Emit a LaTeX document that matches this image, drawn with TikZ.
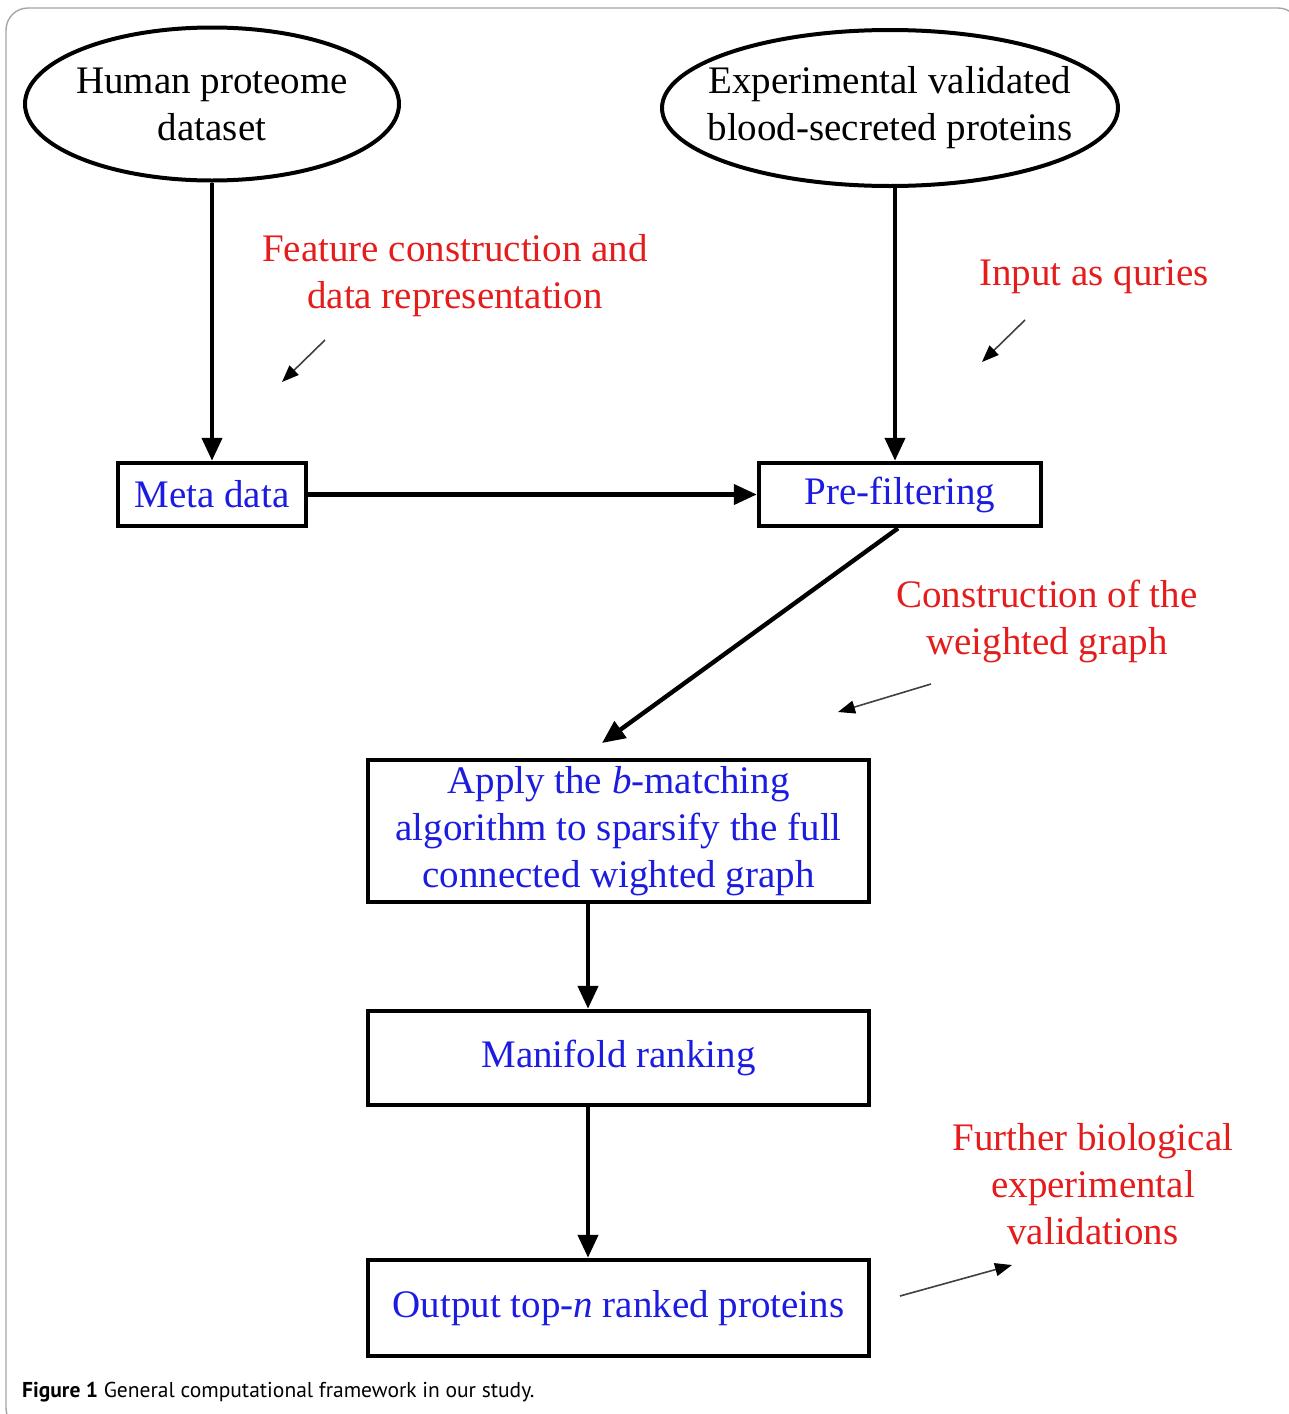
\documentclass[tikz,border=0pt]{standalone}
\usepackage{fontspec}
\setmainfont{Liberation Serif}
\newfontfamily\capfont{PT Sans}
\usetikzlibrary{shapes.geometric,arrows.meta}
\definecolor{lblred}{RGB}{228,28,28}
\definecolor{boxblue}{RGB}{28,28,225}
\definecolor{frame}{RGB}{165,165,165}
\tikzset{
  big/.style={font=\fontsize{39}{47}\selectfont},
  ell/.style={ellipse,draw,line width=4pt,inner sep=0pt},
  etext/.style={align=center,big,inner sep=0pt},
  stepbox/.style={rectangle,draw,line width=4.5pt,inner sep=0pt,align=center,big,text=boxblue},
  lbl/.style={align=center,big,text=lblred,inner sep=0pt},
  arr/.style={line width=4.4pt,-{Triangle[length=23pt,width=20pt]}},
  thin/.style={line width=1.6pt,draw=black!75,-{Triangle[length=17pt,width=13pt,color=black]}}
}
\begin{document}
\begin{tikzpicture}[x=1pt,y=-1pt]
\useasboundingbox (0,0) rectangle (1289,1414);
\draw[frame,line width=1.4pt,rounded corners=22pt] (6,8) rectangle (1300,1430);

\node[ell,minimum width=374pt,minimum height=153pt] (h1) at (212,104) {};
\node[etext] (h1t) at (h1.center) {Human proteome\\dataset};
\node[ell,minimum width=456pt,minimum height=156pt] (h2) at (890,108) {};
\node[etext] (h2t) at (h2.center) {Experimental validated\\blood-secreted proteins};

\node[stepbox,minimum width=188pt,minimum height=63pt] (meta) at (212,494.5) {Meta data};
\node[stepbox,minimum width=282pt,minimum height=63pt] (pre) at (900,494.5) {Pre-filtering};
\node[stepbox,minimum width=501pt,minimum height=142pt] (apply) at (618.5,831) {Apply the \textit{b}-matching\\algorithm to sparsify the full\\connected wighted graph};
\node[stepbox,minimum width=501pt,minimum height=94pt] (man) at (618.5,1058) {Manifold ranking};
\node[stepbox,minimum width=501pt,minimum height=96pt] (out) at (618.5,1308) {Output top-\textit{n} ranked proteins};

\node[lbl] (feat) at (455,276) {Feature construction and\\data representation};
\node[lbl] (inp) at (1094,277) {Input as quries};
\node[lbl] (cons) at (1047,621) {Construction of the\\weighted graph};
\node[lbl] (fur) at (1093,1184) {Further biological\\experimental\\validations};

\draw[arr] (h1) -- (meta);
\draw[arr] ([xshift=5pt]h2.south) -- ([xshift=-5pt]pre.north);
\draw[arr] (meta) -- (pre);
\coordinate (dtip) at (602,743);
\draw[arr] ([xshift=-2pt]pre.south) -- (dtip);
\draw[arr] ([xshift=-30.5pt]apply.south) -- ([xshift=-30.5pt]man.north);
\draw[arr] ([xshift=-30.5pt]man.south) -- ([xshift=-30.5pt]out.north);

\coordinate (a1s) at (325,340); \coordinate (a1e) at (282,382);
\coordinate (a2s) at (1025,320); \coordinate (a2e) at (982,362);
\coordinate (a3s) at (931,684); \coordinate (a3e) at (838,712);
\coordinate (a4s) at (900,1296); \coordinate (a4e) at (1012,1265);
\draw[thin] (a1s) -- (a1e);
\draw[thin] (a2s) -- (a2e);
\draw[thin] (a3s) -- (a3e);
\draw[thin] (a4s) -- (a4e);

\node[anchor=base west,inner sep=0pt,font=\capfont\fontsize{21.5}{25}\selectfont] (cap) at (22,1397) {\textbf{Figure 1} General computational framework in our study.};
\end{tikzpicture}
\end{document}
